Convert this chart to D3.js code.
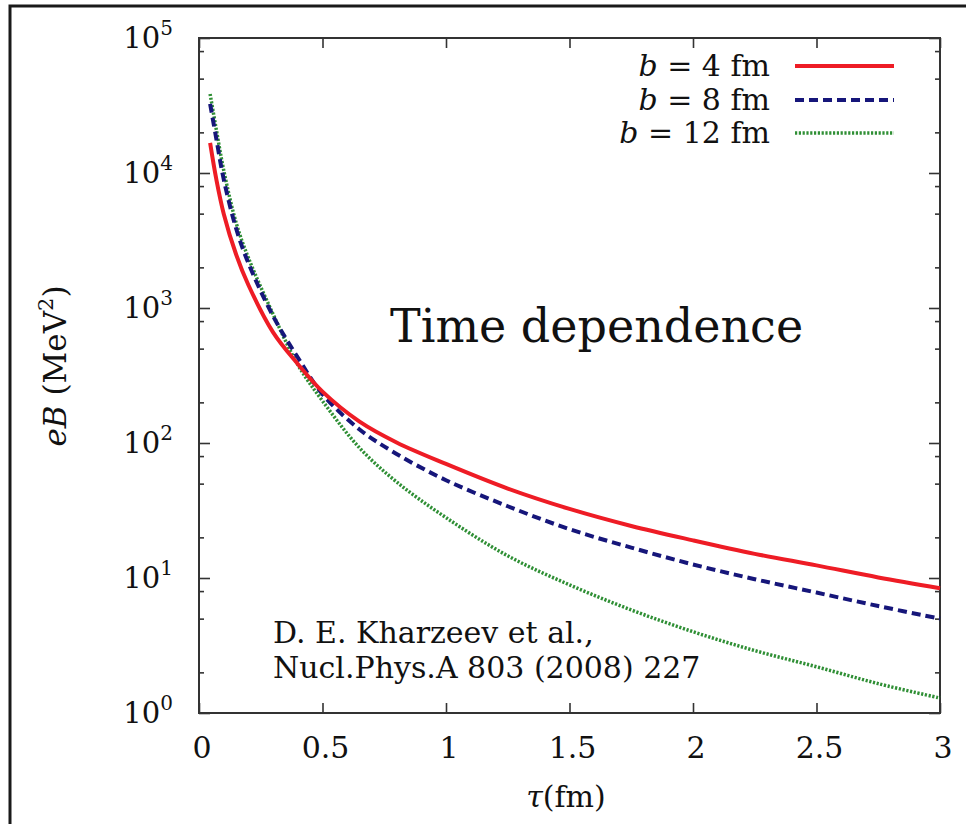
<!DOCTYPE html>
<html>
<head>
<meta charset="utf-8">
<title>eB time dependence</title>
<style>
  body { margin: 0; background: #fff; }
  text { font-family: "DejaVu Serif", serif; fill: #111; }
</style>
</head>
<body>
<svg width="966" height="824"></svg>
<script src="https://d3js.org/d3.v7.min.js"></script>
<script>
// values (tau in fm, eB in MeV^2)
var tau = [0.045, 0.07, 0.1, 0.15, 0.2, 0.3, 0.4, 0.5, 0.65, 0.8, 1.0, 1.25, 1.5, 1.75, 2.0, 2.25, 2.5, 2.75, 3.0];
var b4  = [16700, 9000, 5000, 2500, 1480, 660, 385, 240, 144, 101, 70, 46, 32.5, 24.3, 19, 15.1, 12.4, 10.1, 8.4];
var b8  = [32500, 18000, 9000, 3900, 2150, 870, 430, 230, 126, 83, 53, 34, 23, 16.8, 12.6, 9.8, 7.8, 6.2, 5.0];
var b12 = [38500, 21000, 10500, 4300, 2350, 900, 380, 205, 92, 51.5, 28, 14.6, 8.9, 5.8, 4.0, 2.9, 2.2, 1.65, 1.29];
var seriesNames = ["4", "8", "12"];
var xTicks = [0, 0.5, 1, 1.5, 2, 2.5, 3];
var xTickLabels = ["0", "0.5", "1", "1.5", "2", "2.5", "3"];
var yExponents = [0, 1, 2, 3, 4, 5];
var yMinorFactors = [2, 5, 8];

var svg = d3.select("svg");
var pL = 199, pR = 940, pT = 38, pB = 713;

// outer frame (top and left edges visible)
svg.append("path")
    .attr("d", "M10,824 L10,6 L966,6")
    .attr("fill", "none")
    .attr("stroke", "#1a1a1a")
    .attr("stroke-width", 3);

var x = d3.scaleLinear().domain([0, 3]).range([pL, pR]);
var y = d3.scaleLog().domain([1, 1e5]).range([pB, pT]);

var yMajor = yExponents.map(function (e) { return Math.pow(10, e); });
var yMinor = [];
yExponents.slice(0, -1).forEach(function (e) {
    yMinorFactors.forEach(function (f) { yMinor.push(f * Math.pow(10, e)); });
});

function styleAxis(g) {
    g.select(".domain").remove();
    g.selectAll("line").attr("stroke", "#333").attr("stroke-width", 1.6);
    g.selectAll("text").remove();
}

// ticks pointing inward on all four sides
svg.append("g").attr("transform", "translate(0," + pB + ")")
    .call(d3.axisBottom(x).tickValues(xTicks).tickSize(-10)).call(styleAxis);
svg.append("g").attr("transform", "translate(0," + pT + ")")
    .call(d3.axisTop(x).tickValues(xTicks).tickSize(-10)).call(styleAxis);
svg.append("g").attr("transform", "translate(" + pL + ",0)")
    .call(d3.axisLeft(y).tickValues(yMajor).tickSize(-11)).call(styleAxis);
svg.append("g").attr("transform", "translate(" + pL + ",0)")
    .call(d3.axisLeft(y).tickValues(yMinor).tickSize(-5)).call(styleAxis);
svg.append("g").attr("transform", "translate(" + pR + ",0)")
    .call(d3.axisRight(y).tickValues(yMajor).tickSize(-11)).call(styleAxis);
svg.append("g").attr("transform", "translate(" + pR + ",0)")
    .call(d3.axisRight(y).tickValues(yMinor).tickSize(-5)).call(styleAxis);

// plot box
svg.append("rect")
    .attr("x", pL).attr("y", pT)
    .attr("width", pR - pL).attr("height", pB - pT)
    .attr("fill", "none").attr("stroke", "#333").attr("stroke-width", 2);

// x tick labels
svg.selectAll(".xlab").data(xTicks).enter().append("text")
    .attr("class", "xlab")
    .attr("x", function (d) { return x(d) + 3; })
    .attr("y", 758)
    .attr("text-anchor", "middle")
    .attr("font-size", 30)
    .text(function (d, i) { return xTickLabels[i]; });

// y tick labels 10^n
var ylab = svg.selectAll(".ylab").data(yExponents).enter().append("text")
    .attr("class", "ylab")
    .attr("x", 173)
    .attr("y", function (d) { return y(Math.pow(10, d)) + 10; })
    .attr("text-anchor", "end")
    .attr("font-size", 29);
ylab.append("tspan").text("10");
ylab.append("tspan").attr("font-size", 20).attr("dy", -13).text(function (d) { return d; });

// axis titles
var xt = svg.append("text")
    .attr("x", 566).attr("y", 807)
    .attr("text-anchor", "middle")
    .attr("font-size", 30);
xt.append("tspan").attr("font-style", "italic").text("τ");
xt.append("tspan").text("(fm)");

var yt = svg.append("text")
    .attr("transform", "translate(66,366) rotate(-90)")
    .attr("text-anchor", "middle")
    .attr("font-size", 31);
yt.append("tspan").attr("font-style", "italic").text("eB");
yt.append("tspan").text(" (MeV");
yt.append("tspan").attr("font-size", 21).attr("dy", -13).text("2");
yt.append("tspan").attr("dy", 13).text(")");

// curves
var data = [b4, b8, b12];
var colors = ["#ee1c25", "#16167a", "#2f8f35"];
var widths = [4, 4, 3.5];
var dashes = [null, "9,5", "2.2,1.6"];

var line = d3.line()
    .x(function (d) { return x(d[0]); })
    .y(function (d) { return y(d[1]); })
    .curve(d3.curveCatmullRom.alpha(0.5));

// draw green first, then blue, then red on top where they meet
[2, 1, 0].forEach(function (k) {
    var pts = tau.map(function (t, i) { return [t, data[k][i]]; });
    svg.append("path")
        .datum(pts)
        .attr("d", line)
        .attr("fill", "none")
        .attr("stroke", colors[k])
        .attr("stroke-width", widths[k])
        .attr("stroke-dasharray", dashes[k]);
});

// legend
var legendY = [66, 100, 133];
seriesNames.forEach(function (n, k) {
    var t = svg.append("text")
        .attr("x", 770).attr("y", legendY[k] + 10)
        .attr("text-anchor", "end")
        .attr("font-size", 30);
    t.append("tspan").attr("font-style", "italic").text("b");
    t.append("tspan").text(" = " + n + " fm");
    svg.append("line")
        .attr("x1", 795).attr("x2", 894)
        .attr("y1", legendY[k]).attr("y2", legendY[k])
        .attr("stroke", colors[k])
        .attr("stroke-width", widths[k])
        .attr("stroke-dasharray", dashes[k]);
});

// annotations
svg.append("text")
    .attr("x", 390).attr("y", 342)
    .attr("font-size", 46)
    .text("Time dependence");

svg.append("text")
    .attr("x", 273).attr("y", 643)
    .attr("font-size", 30)
    .text("D. E. Kharzeev et al.,");
svg.append("text")
    .attr("x", 273).attr("y", 678)
    .attr("font-size", 30)
    .text("Nucl.Phys.A 803 (2008) 227");
</script>
</body>
</html>
